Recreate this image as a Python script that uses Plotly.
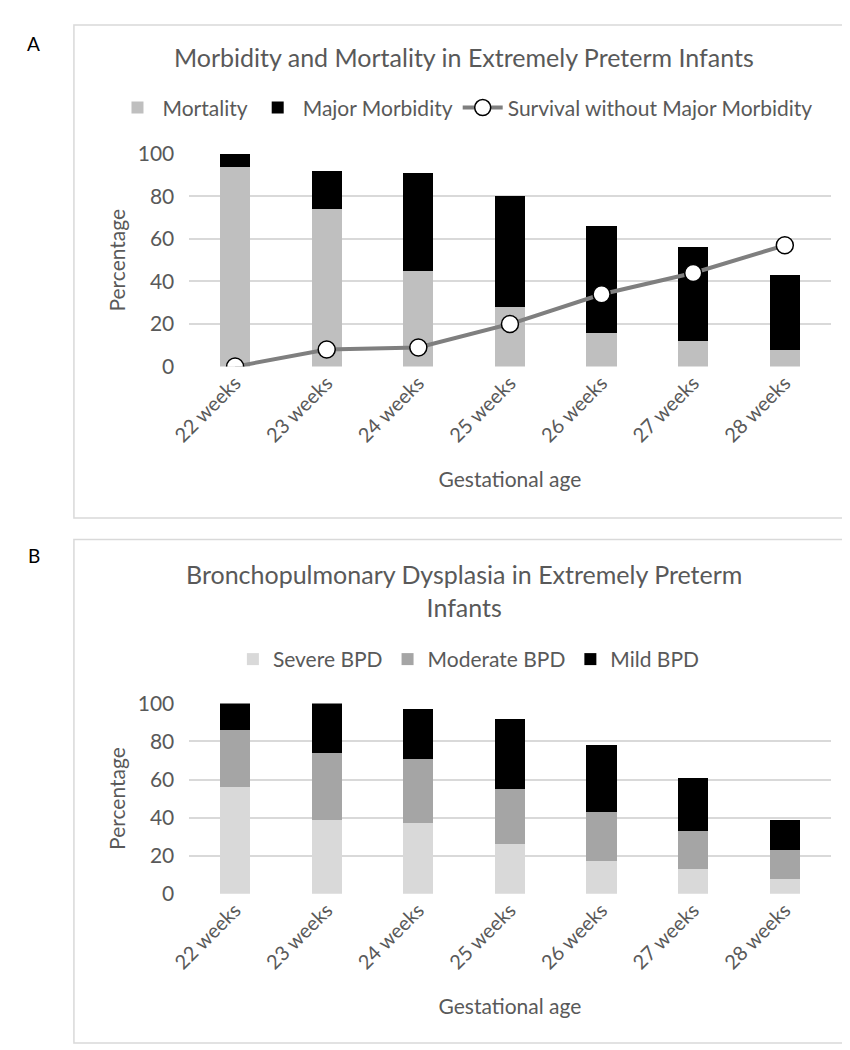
import plotly.graph_objects as go

weeks = ["22 weeks", "23 weeks", "24 weeks", "25 weeks", "26 weeks", "27 weeks", "28 weeks"]

# Panel A
mortality = [94, 74, 45, 28, 16, 12, 8]
major_morbidity = [6, 18, 46, 52, 50, 44, 35]
survival_wo_mm = [0, 8, 9, 20, 34, 44, 57]

# Panel B
severe_bpd = [56, 39, 37, 26, 17, 13, 8]
moderate_bpd = [30, 35, 34, 29, 26, 20, 15]
mild_bpd = [14, 26, 26, 37, 35, 28, 16]

W, H = 850, 1050
FONT = "Lato"
TXT = "#595959"
GRID = "#d9d9d9"

def py(p):
    return 1 - p / H

def px(p):
    return p / W

fig = go.Figure()

fig.add_trace(go.Bar(x=weeks, y=mortality, name="Mortality", marker_color="#bfbfbf",
                     marker_line_width=0, xaxis="x", yaxis="y", legend="legend"))
fig.add_trace(go.Bar(x=weeks, y=major_morbidity, name="Major Morbidity", marker_color="#000000",
                     marker_line_width=0, xaxis="x", yaxis="y", legend="legend"))
fig.add_trace(go.Scatter(x=weeks, y=survival_wo_mm, name="Survival without Major Morbidity",
                         mode="lines+markers", line=dict(color="#7f7f7f", width=4),
                         marker=dict(symbol="circle", size=17, color="white",
                                     line=dict(color="black", width=1.5)),
                         xaxis="x", yaxis="y", legend="legend"))

fig.add_trace(go.Bar(x=weeks, y=severe_bpd, name="Severe BPD", marker_color="#d9d9d9",
                     marker_line_width=0, xaxis="x2", yaxis="y2", legend="legend2"))
fig.add_trace(go.Bar(x=weeks, y=moderate_bpd, name="Moderate BPD", marker_color="#a5a5a5",
                     marker_line_width=0, xaxis="x2", yaxis="y2", legend="legend2"))
fig.add_trace(go.Bar(x=weeks, y=mild_bpd, name="Mild BPD", marker_color="#000000",
                     marker_line_width=0, xaxis="x2", yaxis="y2", legend="legend2"))

xdom = [px(166), px(822)]
xcommon = dict(domain=xdom, tickangle=-45, tickfont=dict(family=FONT, size=20, color=TXT),
               showgrid=False, showline=False, zeroline=False, ticks="",
               title=dict(text="Gestational age", font=dict(family=FONT, size=21, color=TXT), standoff=26))
ycommon = dict(range=[0, 100], dtick=20, tickfont=dict(family=FONT, size=21, color=TXT),
               showgrid=True, gridcolor=GRID, gridwidth=1.5, zeroline=False, showline=False,
               ticks="", ticklabelstandoff=14,
               title=dict(text="Percentage", font=dict(family=FONT, size=21, color=TXT), standoff=6))

fig.update_layout(
    width=W, height=H,
    margin=dict(l=0, r=0, t=0, b=0),
    paper_bgcolor="white", plot_bgcolor="white",
    barmode="stack", bargap=0.67,
    font=dict(family=FONT, color=TXT),
    xaxis=dict(**xcommon, anchor="y"),
    yaxis=dict(**ycommon, domain=[py(353), py(135)], anchor="x"),
    xaxis2=dict(**xcommon, anchor="y2"),
    yaxis2=dict(**ycommon, domain=[py(893), py(698)], anchor="x2"),
    legend=dict(orientation="h", x=px(448), y=py(88), xanchor="center", yanchor="middle",
                font=dict(family=FONT, size=21, color=TXT), bgcolor="rgba(0,0,0,0)",
                itemwidth=40, traceorder="normal"),
    legend2=dict(orientation="h", x=px(452), y=py(653), xanchor="center", yanchor="middle",
                 font=dict(family=FONT, size=21, color=TXT), bgcolor="rgba(0,0,0,0)",
                 traceorder="normal"),
    shapes=[
        dict(type="rect", xref="paper", yref="paper", x0=px(48), x1=px(847), y0=py(508), y1=py(3),
             line=dict(color=GRID, width=1.5), fillcolor="rgba(0,0,0,0)", layer="below"),
        dict(type="rect", xref="paper", yref="paper", x0=px(48), x1=px(847), y0=py(1046), y1=py(530),
             line=dict(color=GRID, width=1.5), fillcolor="rgba(0,0,0,0)", layer="below"),
    ],
    annotations=[
        dict(text="Morbidity and Mortality in Extremely Preterm Infants", x=px(447), y=py(36),
             xref="paper", yref="paper", showarrow=False, xanchor="center", yanchor="middle",
             font=dict(family=FONT, size=25, color=TXT)),
        dict(text="Bronchopulmonary Dysplasia in Extremely Preterm<br>Infants", x=px(447), y=py(582),
             xref="paper", yref="paper", showarrow=False, xanchor="center", yanchor="middle",
             font=dict(family=FONT, size=25, color=TXT)),
        dict(text="A", x=px(7), y=py(22), xref="paper", yref="paper", showarrow=False,
             xanchor="center", yanchor="middle", font=dict(family=FONT, size=19, color="black")),
        dict(text="B", x=px(7), y=py(547), xref="paper", yref="paper", showarrow=False,
             xanchor="center", yanchor="middle", font=dict(family=FONT, size=19, color="black")),
    ],
)

fig.write_html("out.html")
